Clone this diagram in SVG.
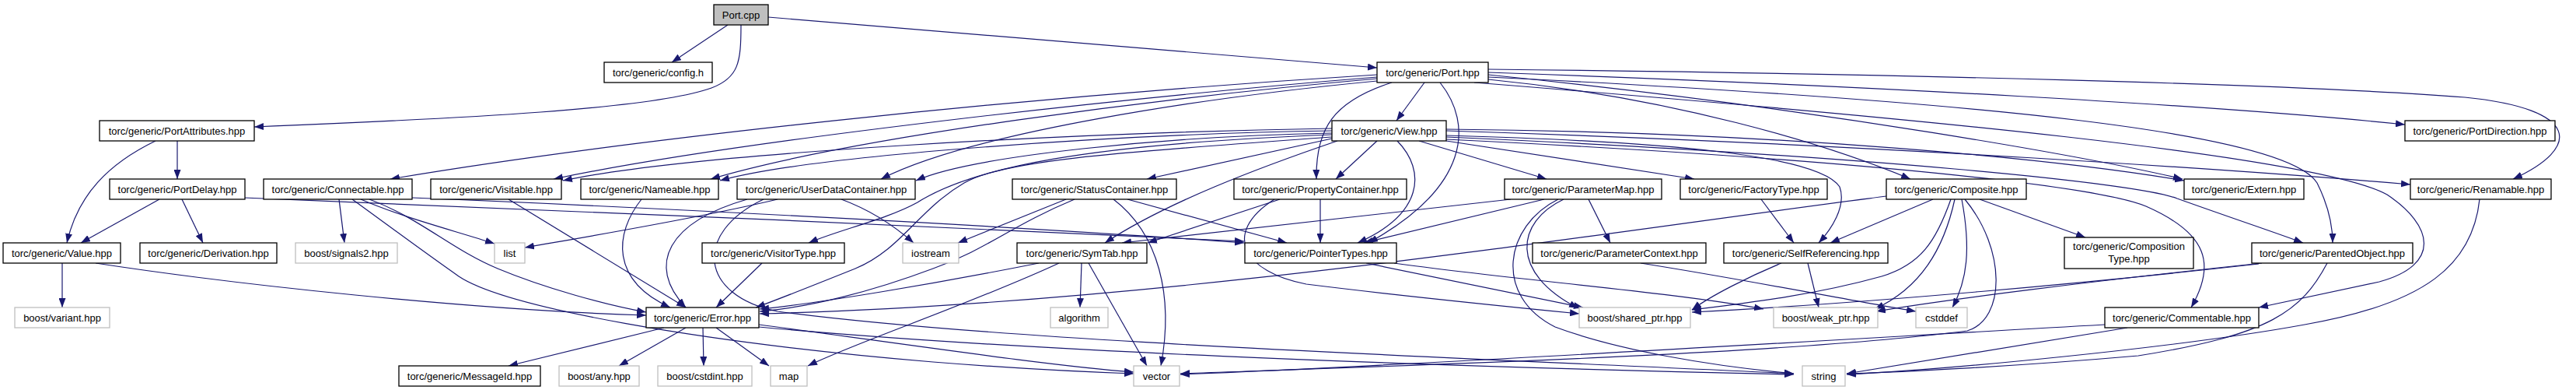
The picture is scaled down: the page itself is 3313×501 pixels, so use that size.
<svg xmlns="http://www.w3.org/2000/svg" width="3313" height="501" viewBox="0 0 3313 501">
<defs>
<marker id="a" markerWidth="12" markerHeight="9" refX="12" refY="4.5" orient="auto" markerUnits="userSpaceOnUse"><path d="M0,0 L12,4.5 L0,9 z" fill="#191970"/></marker>
</defs>
<style>
rect{fill:#fff;stroke:#000;stroke-width:1.3}
.g rect{stroke:#bfbfbf}
.s rect{fill:#bfbfbf}
text{font-family:"Liberation Sans",Arial,Helvetica,sans-serif;font-size:13px;text-anchor:middle;fill:#000}
#edges path{fill:none;stroke:#191970;stroke-width:1.2;marker-end:url(#a)}
</style>
<rect x="0" y="0" width="3313" height="501" style="fill:#fff;stroke:none"/>
<g id="edges">
<path d="M936,32 L864,80"/>
<path d="M953,32 C953,80 950,100 915,113 C840,140 600,152 327,163"/>
<path d="M988,22 L1771,87"/>
<path d="M1832,106 L1796,155"/>
<path d="M1790,106 C1715,130 1692,165 1693,230"/>
<path d="M1852,106 C1895,160 1890,240 1760,312"/>
<path d="M1771,96 C1300,125 800,180 502,230"/>
<path d="M1771,99 C1450,125 950,180 712,230"/>
<path d="M1771,101 C1500,125 1100,175 914,230"/>
<path d="M1771,104 C1550,125 1250,170 1133,230"/>
<path d="M1713,165 C1400,170 900,195 724,232"/>
<path d="M1713,168 C1450,172 1050,198 926,232"/>
<path d="M1713,171 C1500,175 1250,200 1178,232"/>
<path d="M1713,178 L1475,230"/>
<path d="M1713,173 C1400,185 1250,215 1180,260 C1140,282 1080,295 1040,312"/>
<path d="M1713,176 C1450,195 1290,205 1240,235 C1180,270 1160,320 1100,345 C1050,365 1000,385 972,395"/>
<path d="M1720,181 C1620,215 1500,260 1421,312"/>
<path d="M1771,181 L1718,230"/>
<path d="M1797,181 C1835,220 1830,275 1746,312"/>
<path d="M1825,181 L1989,230"/>
<path d="M1860,181 L2179,230"/>
<path d="M1860,174 C2150,182 2340,200 2366,240 C2375,265 2355,295 2339,312"/>
<path d="M1860,166 C2300,170 2650,205 2809,232"/>
<path d="M1860,168 C2400,185 2900,220 3100,237"/>
<path d="M1860,176 C2400,200 2750,235 2800,255 C2870,280 2930,300 2962,312"/>
<path d="M1860,179 C2400,205 2700,240 2760,265 C2840,300 2850,340 2818,395"/>
<path d="M1914,102 C2150,125 2350,185 2457,230"/>
<path d="M1914,96 C2350,140 2700,205 2807,230"/>
<path d="M1914,93 C2400,110 2850,135 3093,160"/>
<path d="M1914,89 C2450,95 2950,108 3170,125 C3320,140 3320,190 3232,230"/>
<path d="M1914,99 C2550,130 2940,170 2980,235 C2995,265 3000,290 3000,312"/>
<path d="M1896,106 C2450,150 2980,200 3070,250 C3130,290 3140,340 3060,362 L2905,395"/>
<path d="M2486,256 L2354,312"/>
<path d="M2509,256 C2490,310 2470,340 2420,355 C2330,380 2240,390 2176,398"/>
<path d="M2514,256 C2500,320 2470,370 2411,397"/>
<path d="M2523,256 C2535,320 2530,360 2511,395"/>
<path d="M2527,256 C2580,320 2580,410 2530,425 C2300,455 1800,470 1518,480"/>
<path d="M2546,256 L2682,305"/>
<path d="M2426,252 C2050,300 1500,390 977,403"/>
<path d="M2265,256 L2307,312"/>
<path d="M1943,256 L1443,312"/>
<path d="M1986,256 L1754,312"/>
<path d="M2011,256 C1950,285 1940,350 2030,396"/>
<path d="M2004,256 C1935,290 1920,380 2000,420 C2080,450 2200,470 2307,480"/>
<path d="M2043,256 L2071,312"/>
<path d="M1698,256 L1698,312"/>
<path d="M1646,256 L1476,312"/>
<path d="M1639,256 C1570,300 1600,350 1680,365 C1800,380 1950,395 2031,403"/>
<path d="M1371,256 L1232,312"/>
<path d="M1382,256 C1300,290 1270,320 1200,345 C1120,375 1040,395 977,400"/>
<path d="M1432,256 C1490,300 1510,380 1493,470"/>
<path d="M1450,256 L1655,312"/>
<path d="M1391,338 L1389,395"/>
<path d="M1400,338 L1475,470"/>
<path d="M1362,338 C1250,390 1100,440 1039,470"/>
<path d="M1336,338 C1200,365 1050,390 977,397"/>
<path d="M1757,338 L2036,395"/>
<path d="M1793,338 C1950,360 2150,375 2268,397"/>
<path d="M2325,338 L2339,395"/>
<path d="M2291,338 C2250,355 2200,380 2176,398"/>
<path d="M2909,338 C2700,360 2500,385 2413,400"/>
<path d="M2905,339 C2700,362 2400,390 2176,401"/>
<path d="M2993,338 C2960,400 2920,430 2750,457 C2600,470 2450,478 2375,480"/>
<path d="M3189,256 C3180,340 3120,390 2964,417 C2800,447 2500,475 2375,481"/>
<path d="M2736,421 L2375,480"/>
<path d="M2707,417 C2300,440 1800,470 1518,481"/>
<path d="M2110,338 C2250,360 2400,390 2464,400"/>
<path d="M436,256 L443,312"/>
<path d="M464,256 C520,280 580,295 636,313"/>
<path d="M475,256 C540,280 580,320 640,345 C700,370 780,392 831,401"/>
<path d="M453,256 C500,290 540,320 590,355 C650,395 900,440 1200,465 C1300,473 1400,478 1458,480"/>
<path d="M530,254 C800,265 1300,290 1600,312"/>
<path d="M205,256 L104,312"/>
<path d="M234,256 L261,312"/>
<path d="M314,254 C700,270 1200,290 1600,310"/>
<path d="M228,181 L228,230"/>
<path d="M200,181 C140,210 100,250 86,312"/>
<path d="M80,338 L80,395"/>
<path d="M123,338 C300,365 600,398 831,405"/>
<path d="M654,256 L882,395"/>
<path d="M825,256 C790,300 785,360 862,395"/>
<path d="M961,256 C860,285 830,340 882,395"/>
<path d="M982,256 C890,300 900,380 1000,400 C1300,440 1900,460 2307,480"/>
<path d="M1000,256 C900,280 750,305 675,318"/>
<path d="M1082,256 C1120,270 1150,290 1175,312"/>
<path d="M980,338 L921,395"/>
<path d="M854,421 L654,470"/>
<path d="M882,421 L796,470"/>
<path d="M904,421 L905,470"/>
<path d="M921,421 L989,470"/>
<path d="M976,417 C1150,440 1350,470 1458,478"/>
<path d="M976,420 C1300,450 1800,470 2307,481"/>
</g>
<g id="n_port_cpp" class="s"><rect x="918" y="6" width="70" height="26"/><text x="953" y="23.5">Port.cpp</text></g>
<g id="n_config"><rect x="777" y="80" width="139" height="26"/><text x="846.5" y="97.5">torc/generic/config.h</text></g>
<g id="n_port_hpp"><rect x="1771" y="80" width="143" height="26"/><text x="1842.5" y="97.5">torc/generic/Port.hpp</text></g>
<g id="n_portattributes"><rect x="128" y="155" width="199" height="26"/><text x="227.5" y="172.5">torc/generic/PortAttributes.hpp</text></g>
<g id="n_view"><rect x="1713" y="155" width="147" height="26"/><text x="1786.5" y="172.5">torc/generic/View.hpp</text></g>
<g id="n_portdirection"><rect x="3093" y="155" width="193" height="26"/><text x="3189.5" y="172.5">torc/generic/PortDirection.hpp</text></g>
<g id="n_portdelay"><rect x="141" y="230" width="174" height="26"/><text x="228" y="247.5">torc/generic/PortDelay.hpp</text></g>
<g id="n_connectable"><rect x="339" y="230" width="191" height="26"/><text x="434.5" y="247.5">torc/generic/Connectable.hpp</text></g>
<g id="n_visitable"><rect x="554" y="230" width="168" height="26"/><text x="638" y="247.5">torc/generic/Visitable.hpp</text></g>
<g id="n_nameable"><rect x="747" y="230" width="177" height="26"/><text x="835.5" y="247.5">torc/generic/Nameable.hpp</text></g>
<g id="n_userdatacontainer"><rect x="948" y="230" width="229" height="26"/><text x="1062.5" y="247.5">torc/generic/UserDataContainer.hpp</text></g>
<g id="n_statuscontainer"><rect x="1302" y="230" width="211" height="26"/><text x="1407.5" y="247.5">torc/generic/StatusContainer.hpp</text></g>
<g id="n_propertycontainer"><rect x="1587" y="230" width="222" height="26"/><text x="1698" y="247.5">torc/generic/PropertyContainer.hpp</text></g>
<g id="n_parametermap"><rect x="1935" y="230" width="202" height="26"/><text x="2036" y="247.5">torc/generic/ParameterMap.hpp</text></g>
<g id="n_factorytype"><rect x="2161" y="230" width="189" height="26"/><text x="2255.5" y="247.5">torc/generic/FactoryType.hpp</text></g>
<g id="n_composite"><rect x="2426" y="230" width="180" height="26"/><text x="2516" y="247.5">torc/generic/Composite.hpp</text></g>
<g id="n_extern"><rect x="2809" y="230" width="154" height="26"/><text x="2886" y="247.5">torc/generic/Extern.hpp</text></g>
<g id="n_renamable"><rect x="3100" y="230" width="181" height="26"/><text x="3190.5" y="247.5">torc/generic/Renamable.hpp</text></g>
<g id="n_value"><rect x="4" y="312" width="151" height="26"/><text x="79.5" y="329.5">torc/generic/Value.hpp</text></g>
<g id="n_derivation"><rect x="180" y="312" width="176" height="26"/><text x="268" y="329.5">torc/generic/Derivation.hpp</text></g>
<g id="n_signals2" class="g"><rect x="380" y="312" width="131" height="26"/><text x="445.5" y="329.5">boost/signals2.hpp</text></g>
<g id="n_list" class="g"><rect x="636" y="312" width="39" height="26"/><text x="655.5" y="329.5">list</text></g>
<g id="n_visitortype"><rect x="903" y="312" width="183" height="26"/><text x="994.5" y="329.5">torc/generic/VisitorType.hpp</text></g>
<g id="n_iostream" class="g"><rect x="1161" y="312" width="72" height="26"/><text x="1197" y="329.5">iostream</text></g>
<g id="n_symtab"><rect x="1308" y="312" width="167" height="26"/><text x="1391.5" y="329.5">torc/generic/SymTab.hpp</text></g>
<g id="n_pointertypes"><rect x="1601" y="312" width="195" height="26"/><text x="1698.5" y="329.5">torc/generic/PointerTypes.hpp</text></g>
<g id="n_parametercontext"><rect x="1971" y="312" width="223" height="26"/><text x="2082.5" y="329.5">torc/generic/ParameterContext.hpp</text></g>
<g id="n_selfreferencing"><rect x="2217" y="312" width="211" height="26"/><text x="2322.5" y="329.5">torc/generic/SelfReferencing.hpp</text></g>
<g id="n_compositiontype"><rect x="2655" y="305" width="166" height="40"/><text x="2738" y="321">torc/generic/Composition</text><text x="2738" y="337">Type.hpp</text></g>
<g id="n_parentedobject"><rect x="2896" y="312" width="207" height="26"/><text x="2999.5" y="329.5">torc/generic/ParentedObject.hpp</text></g>
<g id="n_variant" class="g"><rect x="19" y="395" width="122" height="26"/><text x="80" y="412.5">boost/variant.hpp</text></g>
<g id="n_error"><rect x="831" y="395" width="145" height="26"/><text x="903.5" y="412.5">torc/generic/Error.hpp</text></g>
<g id="n_algorithm" class="g"><rect x="1351" y="395" width="74" height="26"/><text x="1388" y="412.5">algorithm</text></g>
<g id="n_shared_ptr" class="g"><rect x="2031" y="395" width="143" height="26"/><text x="2102.5" y="412.5">boost/shared_ptr.hpp</text></g>
<g id="n_weak_ptr" class="g"><rect x="2281" y="395" width="134" height="26"/><text x="2348" y="412.5">boost/weak_ptr.hpp</text></g>
<g id="n_cstddef" class="g"><rect x="2464" y="395" width="66" height="26"/><text x="2497" y="412.5">cstddef</text></g>
<g id="n_commentable"><rect x="2707" y="395" width="198" height="26"/><text x="2806" y="412.5">torc/generic/Commentable.hpp</text></g>
<g id="n_messageid"><rect x="513" y="470" width="182" height="26"/><text x="604" y="487.5">torc/generic/MessageId.hpp</text></g>
<g id="n_any" class="g"><rect x="719" y="470" width="103" height="26"/><text x="770.5" y="487.5">boost/any.hpp</text></g>
<g id="n_cstdint" class="g"><rect x="846" y="470" width="121" height="26"/><text x="906.5" y="487.5">boost/cstdint.hpp</text></g>
<g id="n_map" class="g"><rect x="991" y="470" width="47" height="26"/><text x="1014.5" y="487.5">map</text></g>
<g id="n_vector" class="g"><rect x="1458" y="470" width="59" height="26"/><text x="1487.5" y="487.5">vector</text></g>
<g id="n_string" class="g"><rect x="2318" y="470" width="55" height="26"/><text x="2345.5" y="487.5">string</text></g>
</svg>
